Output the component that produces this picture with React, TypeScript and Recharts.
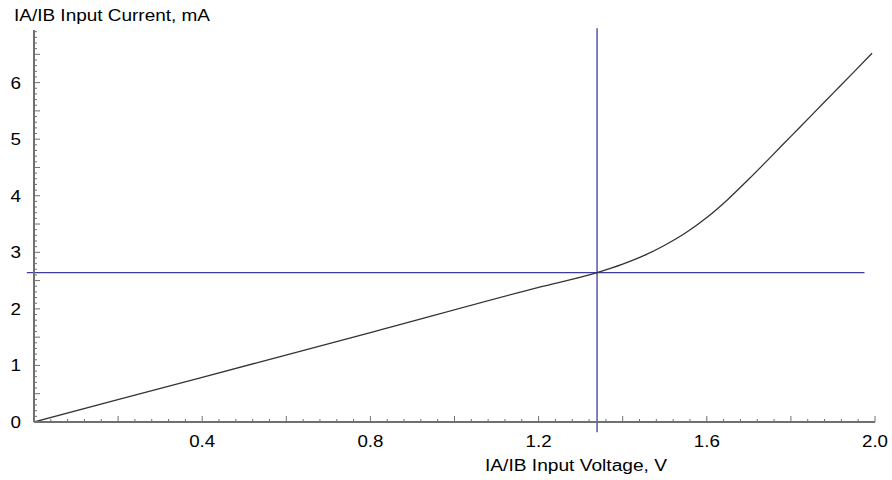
import { Line, LineChart, ReferenceLine, XAxis, YAxis } from "recharts";

// Curva I-V: tramo lineal hasta el punto de cruce y luego
// la subida no lineal hasta 2.0 V.
const VOLTAGE = [
  0, 0.4, 0.8, 1.2, 1.339, 1.4, 1.45, 1.5, 1.55, 1.6, 1.65, 1.7, 1.75, 1.8,
  1.85, 1.9, 1.95, 1.993,
];
const CURRENT = [
  0, 0.79, 1.58, 2.38, 2.64, 2.79, 2.94, 3.125, 3.345, 3.615, 3.935, 4.295,
  4.67, 5.05, 5.43, 5.81, 6.19, 6.52,
];

// Punto de trabajo marcado con las dos líneas azules.
const CROSS_V = 1.339;
const CROSS_I = 2.64;

const X_LABELS = [0.4, 0.8, 1.2, 1.6, 2.0];
const Y_LABELS = [0, 1, 2, 3, 4, 5, 6];
const X_MINOR_STEP = 0.04;
const Y_MINOR_STEP = 0.1;

const X_TICKS = Array.from({ length: 51 }, (_, i) => +(i * X_MINOR_STEP).toFixed(2));
const Y_TICKS = Array.from({ length: 70 }, (_, i) => +(i * Y_MINOR_STEP).toFixed(1));

const data = VOLTAGE.map((v, i) => ({ v, i: CURRENT[i] }));

const FONT = '"Liberation Sans", Arial, sans-serif';
const AXIS = "#707070";
const BLUE = "#3d3d9e";

function XTick({ x, y, payload }: any) {
  const v = payload.value as number;
  const hundredths = Math.round(v * 100);
  const len = hundredths % 20 === 0 ? 6 : 3;
  const label = X_LABELS.find((l) => Math.abs(l - v) < 1e-6);
  return (
    <g>
      <line x1={x} x2={x} y1={y} y2={y - len} stroke={AXIS} strokeWidth={1} />
      {label !== undefined && (
        <text
          x={x}
          y={y + 25}
          textAnchor="middle"
          fontFamily={FONT}
          fontSize={16}
          fill="#000"
          textLength={26}
          lengthAdjust="spacingAndGlyphs"
        >
          {label.toFixed(1)}
        </text>
      )}
    </g>
  );
}

function YTick({ x, y, payload }: any) {
  const v = payload.value as number;
  const tenths = Math.round(v * 10);
  const len = tenths % 5 === 0 ? 6 : 3;
  const label = Y_LABELS.find((l) => Math.abs(l - v) < 1e-6);
  return (
    <g>
      <line x1={x} x2={x + len} y1={y} y2={y} stroke={AXIS} strokeWidth={1} />
      {label !== undefined && (
        <text
          x={x - 13}
          y={y + 6}
          textAnchor="end"
          fontFamily={FONT}
          fontSize={16}
          fill="#000"
          textLength={10.5}
          lengthAdjust="spacingAndGlyphs"
        >
          {label}
        </text>
      )}
    </g>
  );
}

export default function App() {
  return (
    <div style={{ position: "absolute", left: 0, top: 0, width: 892, height: 480, background: "#fff" }}>
      <LineChart
        width={892}
        height={480}
        data={data}
        margin={{ top: 30, right: 17, bottom: 0, left: 0 }}
      >
        <XAxis
          dataKey="v"
          type="number"
          domain={[0, 2]}
          ticks={X_TICKS}
          interval={0}
          tickSize={0}
          tickMargin={0}
          tickLine={false}
          tick={<XTick />}
          height={58}
          axisLine={{ stroke: AXIS, strokeWidth: 2 }}
          allowDataOverflow
        />
        <YAxis
          type="number"
          domain={[0, 6.93]}
          ticks={Y_TICKS}
          interval={0}
          tickSize={0}
          tickMargin={0}
          tickLine={false}
          tick={<YTick />}
          width={34}
          axisLine={{ stroke: AXIS, strokeWidth: 2 }}
          allowDataOverflow
        />
        <ReferenceLine
          segment={[
            { x: -0.017, y: CROSS_I },
            { x: 1.975, y: CROSS_I },
          ]}
          stroke={BLUE}
          strokeWidth={1.3}
          ifOverflow="visible"
        />
        <ReferenceLine
          segment={[
            { x: CROSS_V, y: -0.18 },
            { x: CROSS_V, y: 6.96 },
          ]}
          stroke={BLUE}
          strokeWidth={1.3}
          ifOverflow="visible"
        />
        <Line
          dataKey="i"
          type="monotone"
          stroke="#333"
          strokeWidth={1.3}
          dot={false}
          isAnimationActive={false}
        />
      </LineChart>
      <svg
        width={892}
        height={480}
        style={{ position: "absolute", left: 0, top: 0, pointerEvents: "none" }}
      >
        <text x={14} y={20.5} fontFamily={FONT} fontSize={16} fill="#000" textLength={196} lengthAdjust="spacingAndGlyphs">
          IA/IB Input Current, mA
        </text>
        <text x={485} y={471} fontFamily={FONT} fontSize={16} fill="#000" textLength={182} lengthAdjust="spacingAndGlyphs">
          IA/IB Input Voltage, V
        </text>
      </svg>
    </div>
  );
}
